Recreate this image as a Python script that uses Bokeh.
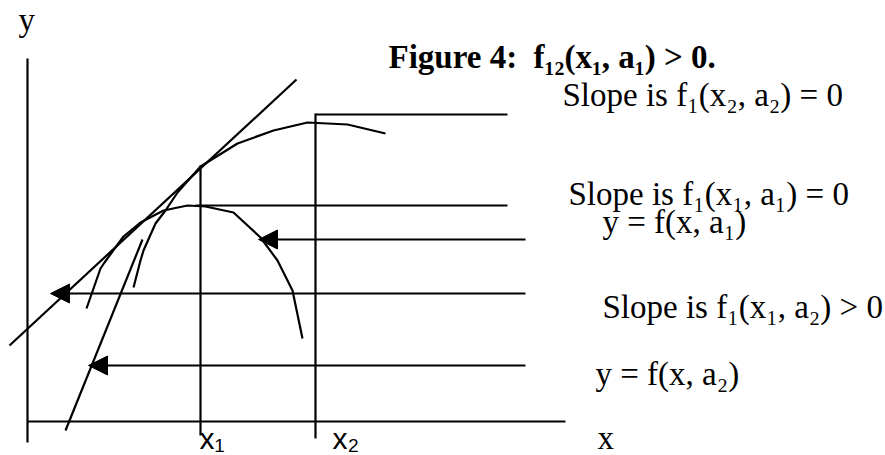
from bokeh.plotting import figure
from bokeh.models import Range1d, Arrow, NormalHead, ColumnDataSource
from bokeh.core.properties import value
from bokeh.embed import file_html
from bokeh.resources import INLINE

# Diagram units: x to the right, y downward (page-like coordinates)
W, H = 885, 455

# Axes of the diagram
y_axis_x = [27, 27]
y_axis_y = [58, 442]
x_axis_x = [27, 565]
x_axis_y = [421, 421]

# Tangent line through the point (x1, f(x1, a2))
tangent_x = [9, 296]
tangent_y = [345, 79]

# Upper curve y = f(x, a2)
upper_x = [133, 140, 143, 155, 165, 177, 200, 237, 273, 307, 347, 385]
upper_y = [287, 260, 250, 223, 210, 192, 166, 143, 130, 122, 124, 133]
# Steep left branch of y = f(x, a2)
steep_x = [65, 142]
steep_y = [430, 239]

# Lower curve y = f(x, a1)
lower_x = [86, 100, 104, 123, 140, 163, 187, 205, 233, 260, 277, 292, 302]
lower_y = [308, 268, 262, 236, 222, 210, 205, 206, 212, 237, 260, 290, 338]

# Vertical markers at x1 and x2
x1_line_x = [200, 200]
x1_line_y = [165, 435]
x2_line_x = [315, 315]
x2_line_y = [113, 438]

# Horizontal pointer lines to the labels
peak2_x = [315, 507]
peak2_y = [114, 114]
peak1_x = [195, 507]
peak1_y = [205, 205]

# Arrows from the labels to the curves
arrow_x_start = [525, 525, 525]
arrow_x_end = [258, 50, 88]
arrow_y = [239, 293, 365]

# Labels (positions are text anchors)
serif_labels = ["Slope is f\u2081(x\u2082, a\u2082) = 0",
                "Slope is f\u2081(x\u2081, a\u2081) = 0",
                "y = f(x, a\u2081)",
                "Slope is f\u2081(x\u2081, a\u2082) > 0",
                "y = f(x, a\u2082)",
                "x",
                "y"]
serif_label_x = [562, 568, 602, 602, 595, 597, 18]
serif_label_y = [94, 193, 221, 306, 373, 437, 19]

title_text = ["Figure 4:\u00a0 f\u2081\u2082(x\u2081, a\u2081) > 0."]
title_x = [388]
title_y = [56]

sans_labels = ["x\u2081", "x\u2082"]
sans_label_x = [199, 332]
sans_label_y = [438, 438]

p = figure(width=W, height=H, output_backend="svg", toolbar_location=None,
           x_range=Range1d(0, W), y_range=Range1d(H, 0),
           min_border=0, outline_line_color=None)
p.axis.visible = False
p.grid.visible = False
p.background_fill_color = "white"
p.border_fill_color = "white"

LW = 2.2
for xs, ys in [(y_axis_x, y_axis_y), (x_axis_x, x_axis_y),
               (tangent_x, tangent_y), (upper_x, upper_y), (steep_x, steep_y),
               (lower_x, lower_y), (x1_line_x, x1_line_y), (x2_line_x, x2_line_y),
               (peak2_x, peak2_y), (peak1_x, peak1_y)]:
    p.line(xs, ys, line_color="black", line_width=LW)

arrow_src = ColumnDataSource(dict(x0=arrow_x_start, x1=arrow_x_end,
                                  y0=arrow_y, y1=arrow_y))
p.add_layout(Arrow(end=NormalHead(size=19, fill_color="black", line_color="black"),
                   x_start="x0", y_start="y0", x_end="x1", y_end="y1",
                   source=arrow_src, line_color="black", line_width=LW))

p.text(x=serif_label_x, y=serif_label_y, text=serif_labels,
       text_font=value("Liberation Serif"), text_font_size="33px",
       text_baseline="alphabetic", text_align="left", text_color="black")
p.text(x=title_x, y=title_y, text=title_text,
       text_font=value("Liberation Serif"), text_font_size="33px",
       text_font_style="bold",
       text_baseline="alphabetic", text_align="left", text_color="black")
p.text(x=sans_label_x, y=sans_label_y, text=sans_labels,
       text_font=value("Liberation Sans"), text_font_size="30px",
       text_baseline="alphabetic", text_align="left", text_color="black")

open("out.html", "w").write(file_html(p, INLINE))
